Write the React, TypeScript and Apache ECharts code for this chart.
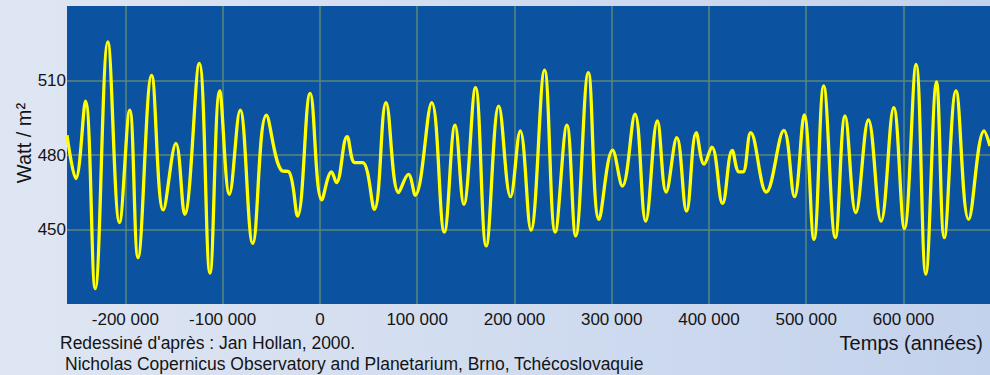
import React, { useEffect, useRef } from "react";
import * as echarts from "echarts";

// Time (years) and insolation (W/m²)
const years = [
  -260000, -251000, -241000, -231000, -218000, -206000, -195500, -187000, -173000, -161000,
  -148000, -139000, -124000, -113000, -103000, -93000, -82000, -69000, -55000, -39000,
  -32000, -23000, -10000, 2000, 12000, 17000, 28000, 36000, 44000, 56000,
  68000, 81000, 91000, 98000, 115000, 128000, 139000, 148000, 160000, 171000,
  184000, 196000, 206000, 217000, 231000, 242000, 254000, 263000, 276000, 287000,
  301000, 311000, 324000, 335000, 347000, 356000, 367000, 377000, 387000, 395000,
  403000, 414000, 424000, 431000, 435000, 443000, 459000, 477000, 488000, 498000,
  508000, 518000, 530000, 540000, 551000, 564000, 577000, 590000, 601000, 613000,
  623000, 634000, 642000, 654000, 667000, 683000, 689000,
];
const watts = [
  488, 470.5, 501.7, 426.2, 525.5, 452.8, 498.1, 438.7, 512.1, 457.9,
  484.7, 456.1, 516.9, 432.4, 505.8, 464.2, 498.1, 444.4, 496, 473.6,
  473.3, 455.4, 504.8, 461.9, 473.2, 468.9, 487.4, 476.9, 476.9, 458.1,
  501.1, 464.9, 472.2, 463.8, 501.1, 449, 492, 460.1, 507.1, 443.4,
  499.7, 463.2, 489.7, 449.8, 514.2, 449, 492, 447.4, 513.2, 454.1,
  482, 467.5, 496.4, 453.4, 493.7, 465.1, 487, 457.4, 489, 476.3,
  483.2, 460.5, 481.9, 473.2, 473.2, 489, 465.1, 489.9, 463.2, 496.1,
  446, 507.8, 446.7, 495.7, 456.8, 494.1, 453.4, 499.1, 450.4, 516.5,
  432, 509.4, 446.7, 505.8, 454.1, 489.7, 483.6,
];
const xTickValues = [-200000, -100000, 0, 100000, 200000, 300000, 400000, 500000, 600000];

const yAxisTitle = "Watt / m²";
const xAxisTitle = "Temps (années)";
const sourceLine1 = "Redessiné d'après : Jan Hollan, 2000.";
const sourceLine2 = "Nicholas Copernicus Observatory and Planetarium, Brno, Tchécoslovaquie";

const fmt = (v: number) => String(v).replace(/\B(?=(\d{3})+(?!\d))/g, " ");

export default function App() {
  const ref = useRef<HTMLDivElement>(null);
  useEffect(() => {
    if (!ref.current) return;
    const chart = echarts.init(ref.current, null, { renderer: "svg" });
    const data = years.map((y, i) => [y, watts[i]]);
    const font = "'Liberation Sans', Arial, sans-serif";
    const gridColor = "#5a8878";
    chart.setOption({
      animation: false,
      grid: {
        left: 67,
        right: 0,
        top: 6,
        bottom: 71,
        show: true,
        backgroundColor: "#0b52a0",
        borderWidth: 0,
      },
      xAxis: {
        type: "value",
        min: -260000,
        max: 689000,
        axisLine: { show: false },
        axisTick: { show: false, customValues: xTickValues },
        axisLabel: {
          customValues: xTickValues,
          formatter: (v: number) => fmt(v),
          color: "#141414",
          fontSize: 17,
          fontFamily: font,
          margin: 7,
        },
        splitLine: { show: true, lineStyle: { color: gridColor, width: 1.5 } },
      },
      yAxis: {
        type: "value",
        min: 420,
        max: 540,
        interval: 30,
        axisLine: { show: false },
        axisTick: { show: false },
        axisLabel: {
          showMinLabel: false,
          showMaxLabel: false,
          color: "#141414",
          fontSize: 17,
          fontFamily: font,
          margin: 1,
        },
        splitLine: {
          show: true,
          showMinLine: false,
          showMaxLine: false,
          lineStyle: { color: gridColor, width: 1.5 },
        },
      },
      graphic: [
        {
          type: "text",
          x: 24,
          y: 143,
          rotation: Math.PI / 2,
          style: {
            text: yAxisTitle,
            fill: "#141414",
            font: `20px ${font}`,
            textAlign: "center",
            textVerticalAlign: "middle",
          },
        },
        {
          type: "text",
          x: 983,
          y: 343,
          style: {
            text: xAxisTitle,
            fill: "#141414",
            font: `20px ${font}`,
            textAlign: "right",
            textVerticalAlign: "middle",
          },
        },
        {
          type: "text",
          x: 60,
          y: 343,
          style: {
            text: sourceLine1,
            fill: "#141414",
            font: `17.5px ${font}`,
            textAlign: "left",
            textVerticalAlign: "middle",
          },
        },
        {
          type: "text",
          x: 65,
          y: 364,
          style: {
            text: sourceLine2,
            fill: "#141414",
            font: `17.5px ${font}`,
            textAlign: "left",
            textVerticalAlign: "middle",
          },
        },
      ],
      series: [
        {
          type: "line",
          data,
          smooth: 0.4,
          symbol: "none",
          showSymbol: false,
          clip: true,
          lineStyle: { color: "#ffff00", width: 3.3 },
        },
      ],
    });
    return () => chart.dispose();
  }, []);
  return (
    <div
      ref={ref}
      style={{
        position: "absolute",
        left: 0,
        top: 0,
        width: 990,
        height: 375,
        background: "linear-gradient(to right, #dfe6f3, #c3d2ec)",
      }}
    />
  );
}
